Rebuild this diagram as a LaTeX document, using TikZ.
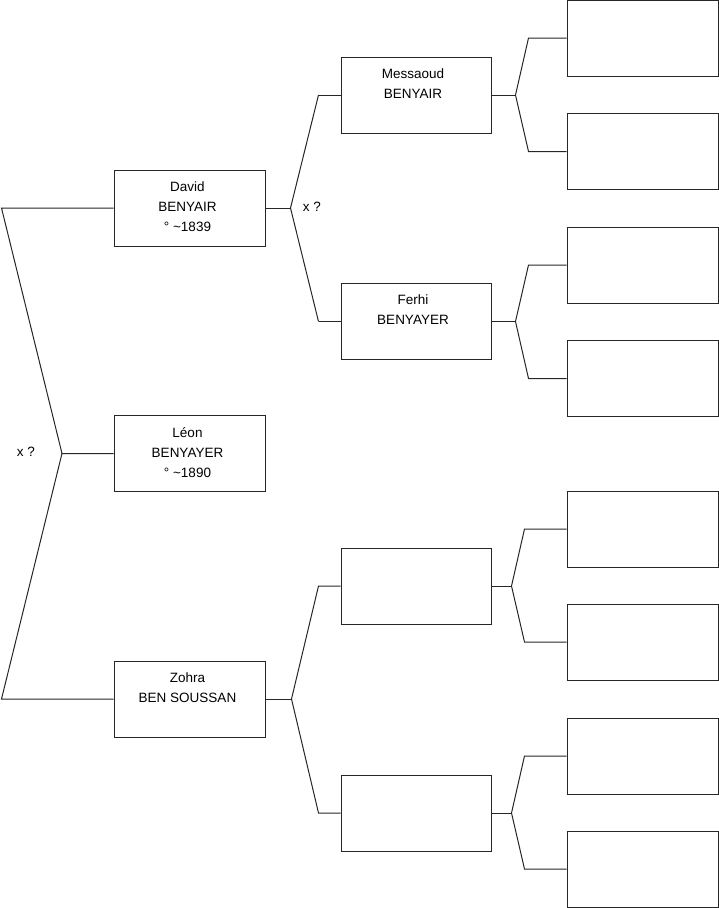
\documentclass[tikz,border=0pt]{standalone}
\usepackage{fontspec}
\setmainfont{Liberation Sans}
\begin{document}
\begin{tikzpicture}[x=1pt,y=-1pt,
  box/.style={draw=black!85,line width=1pt,minimum width=151pt,minimum height=76pt,inner sep=0pt},
  box3/.style={box,minimum width=150pt},
  txt/.style={anchor=north,inner sep=0pt,align=center,font={\fontsize{13.5}{20}\selectfont}},
  lbl/.style={inner sep=0pt,font={\fontsize{13.5}{16}\selectfont}},
  link/.style={draw=black!85,line width=1pt,line join=miter}]
\useasboundingbox (0,0) rectangle (719,908);
% generation 1 and 2
\node[box] (L) at (189.5,453.5) {};
\node[box] (D) at (189.5,208) {};
\node[box] (Z) at (189.5,699) {};
% generation 3
\node[box3] (M) at (416,95) {};
\node[box3] (F) at (416,321.5) {};
\node[box3] (E3) at (416,586) {};
\node[box3] (E4) at (416,813) {};
% generation 4
\foreach \n/\y in {A/38,B/151.5,C/265,G/378.5,H/529,I/642,J/756,K/869}
  \node[box] (\n) at (642.5,\y) {};
% texts
\node[txt] (tL) at ([xshift=-2pt,yshift=-12pt]L.north) {Léon\\BENYAYER\\° \textasciitilde1890};
\node[txt] (tD) at ([xshift=-2pt,yshift=-12pt]D.north) {David\\BENYAIR\\° \textasciitilde1839};
\node[txt] (tZ) at ([xshift=-2pt,yshift=-12pt]Z.north) {Zohra\\BEN SOUSSAN};
\node[txt] (tM) at ([xshift=-3pt,yshift=-12pt]M.north) {Messaoud\\BENYAIR};
\node[txt] (tF) at ([xshift=-3pt,yshift=-12pt]F.north) {Ferhi\\BENYAYER};
% labels
\node[lbl] (x1) at (26,452) {x ?};
\node[lbl] (x2) at (312,207) {x ?};
% connectors gen 1
\coordinate (v1) at (62,453.5);
\draw[link] (D.west) -- ++(-112,0) coordinate (bD) -- (v1) -- (L.west);
\draw[link] (Z.west) -- ++(-112,0) coordinate (bZ) -- (v1);
% connectors gen 2
\draw[link] ([xshift=-22pt]M.west) -- ++(-28,113) coordinate (v2) -- ([xshift=-22pt]F.west);
\draw[link] ([xshift=-22pt]M.west) -- (M.west);
\draw[link] ([xshift=-22pt]F.west) -- (F.west);
\draw[link] (D.east) -- (v2);
\draw[link] (Z.east) -- ++(26,0) coordinate (v3);
\draw[link] (E3.west) -- ([xshift=-22pt]E3.west) -- (v3) -- ([xshift=-22pt]E4.west) -- (E4.west);
% connectors gen 3
\draw[link] (A.west) -- ([xshift=-38pt]A.west) -- ([xshift=24pt]M.east) -- ([xshift=-38pt]B.west) -- (B.west);
\draw[link] (M.east) -- ([xshift=24pt]M.east);
\draw[link] (C.west) -- ([xshift=-38pt]C.west) -- ([xshift=24pt]F.east) -- ([xshift=-38pt]G.west) -- (G.west);
\draw[link] (F.east) -- ([xshift=24pt]F.east);
\draw[link] (H.west) -- ([xshift=-42pt]H.west) -- ([xshift=20pt]E3.east) -- ([xshift=-42pt]I.west) -- (I.west);
\draw[link] (E3.east) -- ([xshift=20pt]E3.east);
\draw[link] (J.west) -- ([xshift=-42pt]J.west) -- ([xshift=20pt]E4.east) -- ([xshift=-42pt]K.west) -- (K.west);
\draw[link] (E4.east) -- ([xshift=20pt]E4.east);
\end{tikzpicture}
\end{document}
